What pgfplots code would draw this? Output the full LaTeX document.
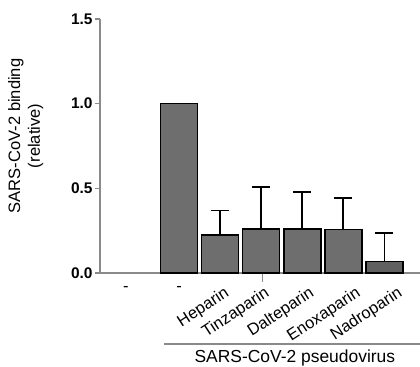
\documentclass[border=0pt]{standalone}
\usepackage{pgfplots}
\pgfplotsset{compat=1.18}
\usepackage{fontspec}
\setmainfont{Liberation Sans}
\definecolor{barfill}{HTML}{6E6E6E}
\definecolor{barfilldark}{HTML}{606060}
\definecolor{axgray}{HTML}{8A8A8A}
\begin{document}
\begin{tikzpicture}
\useasboundingbox (-100bp,-94bp) rectangle (320bp,273bp);
\begin{axis}[
  at={(0,0)}, anchor=south west,
  scale only axis,
  width=320bp, height=254bp,
  xmin=-0.63, xmax=7.17,
  ymin=0, ymax=1.5,
  axis x line=bottom, axis y line=left,
  axis line style={-, axgray, line width=1.4bp},
  clip=false,
  ytick={0,0.5,1.0,1.5},
  yticklabels={\textbf{0.0},\textbf{0.5},\textbf{1.0},\textbf{1.5}},
  yticklabel style={font=\fontsize{15.5}{17}\selectfont, xshift=1bp},
  y tick style={axgray, line width=1.4bp},
  tick align=outside,
  major tick length=5bp,
  xtick={0,1.3},
  xticklabels={-,-},
  xticklabel style={font=\fontsize{16.5}{18}\selectfont, yshift=-5bp},
  major x tick style={draw=none},
  minor xtick={3.32},
  minor x tick style={axgray, line width=1bp},
  minor tick length=9bp,
  extra x ticks={2.34,3.32,4.41,5.54,6.56},
  extra x tick labels={Heparin,Tinzaparin,Dalteparin,Enoxaparin,Nadroparin},
  extra x tick style={major x tick style={draw=none},
    xticklabel style={rotate=33, anchor=north east, inner sep=0pt, font=\fontsize{16.5}{18}\selectfont, xshift=0bp, yshift=-3bp}},
  ylabel={SARS-CoV-2 binding\\(relative)},
  ylabel style={at={(axis description cs:-0.166,0.54)}, anchor=south, align=center, font=\fontsize{16.6}{20}\selectfont},
  ybar, bar width=37bp,
]
\addplot[bar shift=0pt, fill=barfill, draw=black, line width=1.5bp] coordinates {(1.3,1.0)};
\addplot[bar shift=0pt, fill=barfill, draw=black, line width=1.5bp,
  error bars/.cd, y dir=plus, y explicit,
  error bar style={line width=1.6bp, black},
  error mark options={rotate=90, mark size=9bp, line width=1.6bp, black}]
  table[x=x, y=y, y error=e] {
x y e
2.3 0.224 0.146
3.3 0.260 0.248
4.3 0.260 0.218
5.3 0.258 0.185
};
\addplot[bar shift=0pt, fill=barfilldark, draw=black, line width=1.5bp,
  error bars/.cd, y dir=plus, y explicit,
  error bar style={line width=1.6bp, black},
  error mark options={rotate=90, mark size=9bp, line width=1.6bp, black}]
  table[x=x, y=y, y error=e] {
x y e
6.3 0.069 0.169
};
\draw[axgray, line width=1.4bp] (axis cs:0.93,-0.42) -- (axis cs:7.17,-0.42);
\node[font=\fontsize{17.5}{20}\selectfont, anchor=north] at (axis cs:4.12,-0.435) {SARS-CoV-2 pseudovirus};
\end{axis}
\end{tikzpicture}
\end{document}
